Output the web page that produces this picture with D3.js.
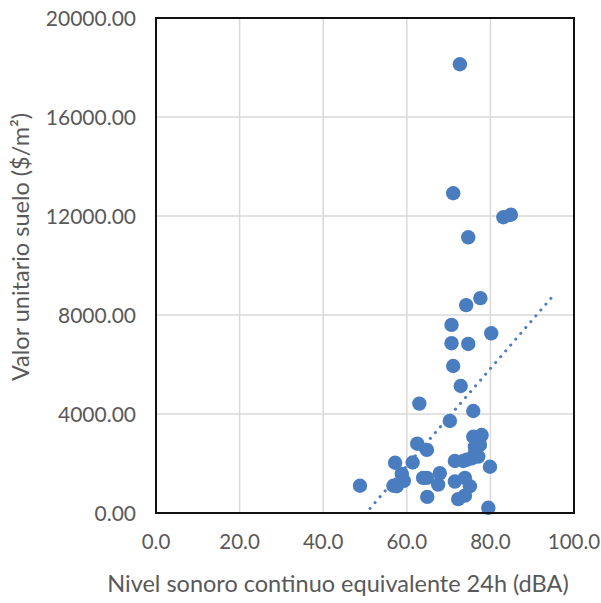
<!DOCTYPE html>
<html>
<head>
<meta charset="utf-8">
<script src="https://cdn.jsdelivr.net/npm/d3@7"></script>
<style>
  body { margin: 0; background: #fff; }
  text { font-family: Lato, "Open Sans", sans-serif; fill: #595959; }
</style>
</head>
<body>
<script>
// nivel sonoro (dBA) vs valor unitario del suelo ($/m2)
const noiseLevel = [48.8, 56.8, 57.6, 57.2, 58.8, 59.3, 61.4, 62.5, 63.0, 63.9,
    64.8, 64.8, 64.9, 67.5, 67.9, 70.3, 70.7, 70.7, 71.1, 71.1,
    71.5, 71.5, 72.3, 72.7, 72.9, 73.9, 73.5, 73.9, 74.2, 74.7,
    74.7, 75.1, 74.3, 75.5, 75.9, 75.9, 76.3, 76.3, 77.1, 77.5,
    77.6, 77.9, 79.5, 79.9, 80.2, 83.1, 84.9];
const landValue = [1100, 1100, 1080, 2030, 1580, 1300, 2040, 2800, 4420, 1420,
    1420, 2550, 650, 1150, 1610, 3720, 7600, 6860, 5940, 12920,
    2100, 1270, 560, 18130, 5130, 700, 2100, 1420, 8400, 6830,
    11140, 1080, 2150, 2210, 3080, 4120, 2680, 2410, 2280, 2750,
    8680, 3150, 210, 1870, 7260, 11950, 12050];
const xTicks = [0, 20, 40, 60, 80, 100];
const yTicks = [0, 4000, 8000, 12000, 16000, 20000];
const xTitle = "Nivel sonoro continuo equivalente 24h (dBA)";
const yTitle = "Valor unitario suelo ($/m²)";
const forecastForward = 10;

const chart = {
    width: 601,
    height: 603,
    margin: { top: 18, left: 156, bottom: 90, right: 27 }
};
const plotW = chart.width - chart.margin.left - chart.margin.right;
const plotH = chart.height - chart.margin.top - chart.margin.bottom;
const blue = "#4a7dc0";

let svg = d3.select("body").append("svg")
    .attr("width", chart.width)
    .attr("height", chart.height);

let x = d3.scaleLinear().domain([0, 100]).range([0, plotW]);
let y = d3.scaleLinear().domain([0, 20000]).range([plotH, 0]);

let g = svg.append("g")
    .attr("transform", "translate(" + chart.margin.left + "," + chart.margin.top + ")");

svg.append("defs").append("clipPath").attr("id", "plotclip")
    .append("rect").attr("width", plotW).attr("height", plotH);

// grid
g.append("g").selectAll("line")
    .data(yTicks.slice(1, -1))
    .enter().append("line")
    .attr("x1", 0).attr("x2", plotW)
    .attr("y1", d => y(d)).attr("y2", d => y(d))
    .style("stroke", "#d9d9d9").style("stroke-width", 1.5);
g.append("g").selectAll("line")
    .data(xTicks.slice(1, -1))
    .enter().append("line")
    .attr("y1", 0).attr("y2", plotH)
    .attr("x1", d => x(d)).attr("x2", d => x(d))
    .style("stroke", "#d9d9d9").style("stroke-width", 1.5);

// tick labels
g.append("g").selectAll("text")
    .data(yTicks)
    .enter().append("text")
    .attr("x", -20)
    .attr("y", d => y(d))
    .attr("dy", "0.36em")
    .attr("text-anchor", "end")
    .style("font-size", "21px")
    .text(d => d3.format(".2f")(d));
g.append("g").selectAll("text")
    .data(xTicks)
    .enter().append("text")
    .attr("x", d => x(d))
    .attr("y", plotH + 36)
    .attr("text-anchor", "middle")
    .style("font-size", "20.5px")
    .text(d => d3.format(".1f")(d));

// trendline (least squares)
const mx = d3.mean(noiseLevel), my = d3.mean(landValue);
let sxy = 0, sxx = 0;
noiseLevel.forEach((v, i) => { sxy += (v - mx) * (landValue[i] - my); sxx += (v - mx) * (v - mx); });
const slope = sxy / sxx, intercept = my - slope * mx;
const tx = [d3.min(noiseLevel), d3.max(noiseLevel) + forecastForward];

g.append("line")
    .attr("clip-path", "url(#plotclip)")
    .attr("x1", x(tx[0])).attr("y1", y(intercept + slope * tx[0]))
    .attr("x2", x(tx[1])).attr("y2", y(intercept + slope * tx[1]))
    .style("stroke", blue)
    .style("stroke-width", 3)
    .style("stroke-linecap", "round")
    .style("stroke-dasharray", "0.1 7.6");

// points
g.append("g").selectAll("circle")
    .data(noiseLevel)
    .enter().append("circle")
    .attr("cx", d => x(d))
    .attr("cy", (d, i) => y(landValue[i]))
    .attr("r", 7.2)
    .style("fill", blue);

// plot border
g.append("rect")
    .attr("width", plotW).attr("height", plotH)
    .style("fill", "none")
    .style("stroke", "#111")
    .style("stroke-width", 2);

// axis titles
svg.append("text")
    .attr("x", 338)
    .attr("y", 592)
    .attr("text-anchor", "middle")
    .style("font-size", "23.5px")
    .text(xTitle);
svg.append("text")
    .attr("transform", "translate(29," + 247 + ") rotate(-90)")
    .attr("text-anchor", "middle")
    .style("font-size", "23.5px")
    .text(yTitle);
</script>
</body>
</html>
